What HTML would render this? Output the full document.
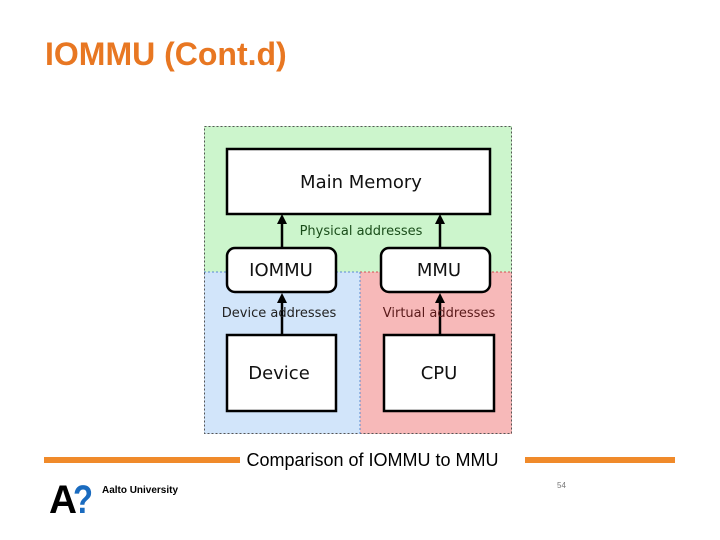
<!DOCTYPE html>
<html><head><meta charset="utf-8"><style>
body{margin:0;width:720px;height:540px;background:#fff;position:relative;overflow:hidden;font-family:"Liberation Sans",sans-serif}
.t{position:absolute;left:45px;top:36px;font-size:32px;font-weight:bold;color:#e87722;white-space:nowrap}
</style></head><body>
<div class="t">IOMMU (Cont.d)</div>
<svg width="720" height="540" style="position:absolute;left:0;top:0" font-family="DejaVu Sans, sans-serif">
<rect x="204" y="126" width="308" height="146" fill="#ccf5cc"/>
<rect x="204" y="272" width="156" height="162" fill="#d2e5fa"/>
<rect x="360" y="272" width="152" height="162" fill="#f7b9b9"/>
<rect x="204.5" y="126.5" width="307" height="307" fill="none" stroke="#555" stroke-dasharray="2,2"/>
<line x1="204" y1="272" x2="360" y2="272" stroke="#5a8ad0" stroke-dasharray="2,2"/>
<line x1="360" y1="272" x2="512" y2="272" stroke="#d05050" stroke-dasharray="2,2"/>
<line x1="360" y1="272" x2="360" y2="434" stroke="#5a8ad0" stroke-dasharray="2,2"/>
<g stroke="#000" stroke-width="2.5" fill="#fff">
<rect x="227" y="149" width="263" height="65"/>
<rect x="227" y="248" width="109" height="44" rx="8"/>
<rect x="381" y="248" width="109" height="44" rx="8"/>
<rect x="227" y="335" width="109" height="76"/>
<rect x="384" y="335" width="110" height="76"/>
<line x1="282" y1="248" x2="282" y2="222"/>
<line x1="440" y1="248" x2="440" y2="222"/>
<line x1="282" y1="335" x2="282" y2="302"/>
<line x1="440" y1="335" x2="440" y2="302"/>
</g>
<g fill="#000">
<polygon points="282,214 277,224 287,224"/>
<polygon points="440,214 435,224 445,224"/>
<polygon points="282,293 277,303 287,303"/>
<polygon points="440,293 435,303 445,303"/>
</g>
<g font-size="18" text-anchor="middle" fill="#111">
<text x="361" y="188">Main Memory</text>
<text x="281" y="276">IOMMU</text>
<text x="439" y="276">MMU</text>
<text x="279" y="379">Device</text>
<text x="439" y="379">CPU</text>
</g>
<g font-size="13" text-anchor="middle">
<text x="361" y="235" fill="#1a4d1a">Physical addresses</text>
<text x="279" y="317" fill="#222">Device addresses</text>
<text x="439" y="317" fill="#5a1a1a">Virtual addresses</text>
</g>
<rect x="44" y="457" width="196" height="6" fill="#f08a2a"/>
<rect x="525" y="457" width="150" height="6" fill="#f08a2a"/>
<text x="372.5" y="466" font-family="Liberation Sans, sans-serif" font-size="18" text-anchor="middle" fill="#000">Comparison of IOMMU to MMU</text>
<text x="49" y="513" font-family="Liberation Sans, sans-serif" font-size="40" font-weight="bold" fill="#000" textLength="28" lengthAdjust="spacingAndGlyphs">A</text>
<text x="73" y="513" font-family="Liberation Sans, sans-serif" font-size="40" font-weight="bold" fill="#1a6bbf" textLength="20" lengthAdjust="spacingAndGlyphs">?</text>
<text x="102" y="493" font-family="Liberation Sans, sans-serif" font-size="10" font-weight="bold" fill="#000" textLength="76" lengthAdjust="spacingAndGlyphs">Aalto University</text>
<text x="557" y="488" font-family="Liberation Sans, sans-serif" font-size="8" fill="#777">54</text>
</svg>
</body></html>
